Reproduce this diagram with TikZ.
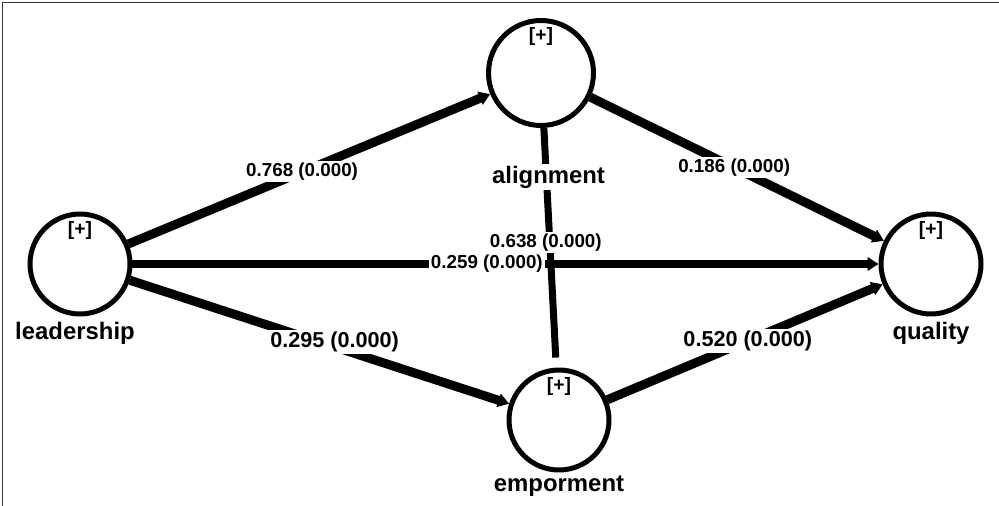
\documentclass[tikz,border=0pt]{standalone}
\usepackage{fontspec}
\setmainfont{Liberation Sans}
\usetikzlibrary{positioning,arrows.meta}
\begin{document}
\begin{tikzpicture}[x=0.02cm, y=-0.02cm,
    lat/.style={circle, draw=black, line width=0.1cm, minimum size=2cm},
    plus/.style={font=\bfseries\fontsize{11}{13}\selectfont, inner sep=0pt},
    nm/.style={font=\bfseries\fontsize{13.6}{16}\selectfont, inner sep=1pt, fill=white},
    coef/.style={font=\bfseries\fontsize{10.7}{12}\selectfont, inner sep=1pt, fill=white},
    bigcoef/.style={coef, font=\bfseries\fontsize{12.3}{14}\selectfont},
    path/.style={line width=0.18cm, -{Triangle[length=0.22cm, width=0.27cm]}}]
    \useasboundingbox (0,0) rectangle (999,506);
    \draw[black!80, line width=0.02cm] (2.5,506) -- (2.5,2.5) -- (999,2.5);
    % latent variables
    \node[lat] (lead) at (80,264) {};
    \node[lat, minimum size=2.1cm] (align) at (541,73) {};
    \node[lat] (empow) at (559,420) {};
    \node[lat] (qual) at (931,264) {};
    \foreach \v in {lead, align, empow, qual}
        \node[plus] (\v plus) at ([yshift=-0.38cm]\v.north) {[+]};
    % paths
    \draw[line width=0.14cm, shorten >=0.2cm] (align) -- (empow)
        node[coef, pos=0.48, xshift=-0.08cm] (ae) {0.638 (0.000)};
    \draw[path] (lead) -- (align) node[coef, pos=0.48] (la) {0.768 (0.000)};
    \draw[path] (lead) -- (qual) node[coef, pos=0.475] (lq) {0.259 (0.000)};
    \draw[path] (lead) -- (empow) node[bigcoef, pos=0.54, yshift=0.1cm] (le) {0.295 (0.000)};
    \draw[path] (align) -- (qual) node[coef, pos=0.49] (aq) {0.186 (0.000)};
    \draw[path] (empow) -- (qual) node[bigcoef, pos=0.51] (eq) {0.520 (0.000)};
    % names
    \node[nm, below=0.08cm of lead, xshift=-0.1cm] (leadtxt) {leadership};
    \node[nm, below=0.72cm of align, xshift=0.15cm] (aligntxt) {alignment};
    \node[nm, below=0.02cm of empow] (empowtxt) {emporment};
    \node[nm, below=0.08cm of qual] (qualtxt) {quality};
\end{tikzpicture}
\end{document}
